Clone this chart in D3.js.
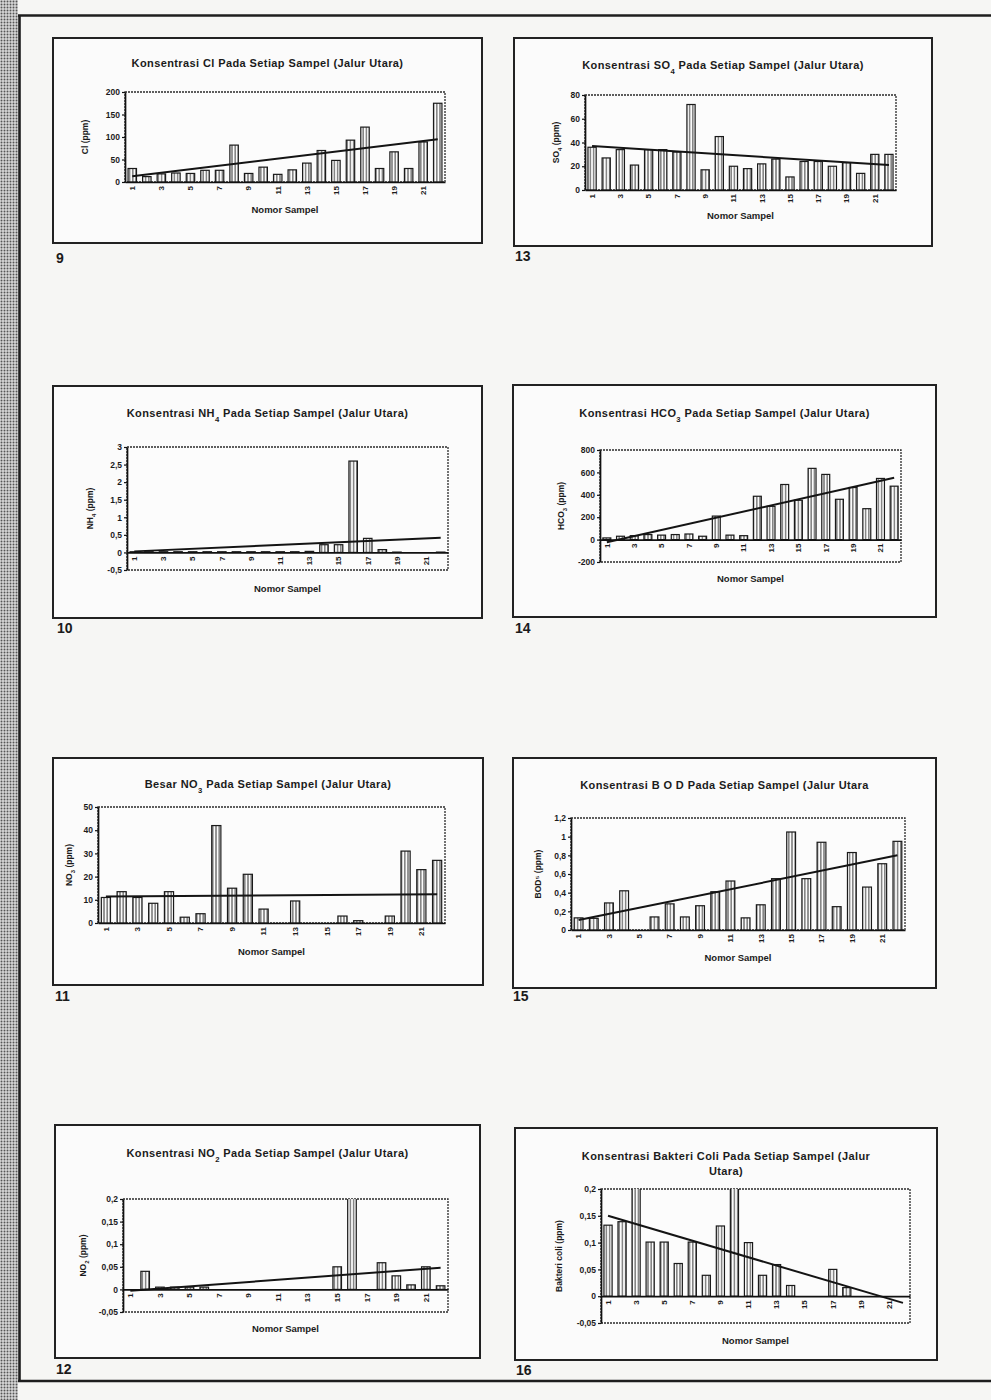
<!DOCTYPE html>
<html>
<head>
<meta charset="utf-8">
<script src="https://cdn.jsdelivr.net/npm/d3@7"></script>
<style>
  html, body { margin: 0; padding: 0; background: #f6f6f4; }
  svg { display: block; }
  text { font-family: "Liberation Sans", Arial, sans-serif; fill: #1b1b1b; }
</style>
</head>
<body>
<svg id="page" width="991" height="1400"></svg>
<script>
// ---- data -------------------------------------------------------------
// sample numbers (Nomor Sampel) and the labelled ones on the category axis
const sampleNo    = [1, 2, 3, 4, 5, 6, 7, 8, 9, 10, 11, 12, 13, 14, 15, 16, 17, 18, 19, 20, 21, 22];
const sampleTicks = [1, 3, 5, 7, 9, 11, 13, 15, 17, 19, 21];

// Cl (ppm)
const clValues = [30, 12, 18, 20, 19, 26, 26, 82, 19, 33, 17, 27, 42, 70, 48, 93, 122, 30, 67, 30, 89, 175];
const clTrend  = [13, 95];
const clTicks  = [0, 50, 100, 150, 200];

// SO4 (ppm)
const so4Values = [36, 27, 34, 21, 34, 34, 32, 72, 17, 45, 20, 18, 22, 26, 11, 24, 24, 20, 23, 14, 30, 30];
const so4Trend  = [37, 21];
const so4Ticks  = [0, 20, 40, 60, 80];

// NH4 (ppm)
const nh4Values = [0.02, 0.02, 0.02, 0.02, 0.02, 0.02, 0.02, 0.02, 0.02, 0.02, 0.02, 0.02, 0.03, 0.22, 0.22, 2.6, 0.4, 0.08, 0.01, 0, 0, 0.01];
const nh4Trend  = [0.03, 0.42];
const nh4Ticks  = [-0.5, 0, 0.5, 1, 1.5, 2, 2.5, 3];

// HCO3 (ppm)
const hco3Values = [15, 30, 35, 45, 40, 45, 50, 30, 210, 40, 35, 387, 297, 492, 351, 636, 582, 360, 465, 276, 546, 477];
const hco3Trend  = [-24, 552];
const hco3Ticks  = [-200, 0, 200, 400, 600, 800];

// NO3 (ppm)
const no3Values = [11, 13.5, 11, 8.5, 13.5, 2.5, 4, 42, 15, 21, 6, 0, 9.5, 0, 0, 3, 1, 0, 3, 31, 23, 27];
const no3Trend  = [11.4, 12.4];
const no3Ticks  = [0, 10, 20, 30, 40, 50];

// BOD (ppm)
const bodValues = [0.13, 0.125, 0.29, 0.42, 0, 0.14, 0.28, 0.14, 0.26, 0.41, 0.525, 0.13, 0.27, 0.55, 1.05, 0.55, 0.94, 0.25, 0.83, 0.46, 0.71, 0.95];
const bodTrend  = [0.107, 0.8];
const bodTicks  = [0, 0.2, 0.4, 0.6, 0.8, 1, 1.2];

// NO2 (ppm)
const no2Values = [0, 0.04, 0.005, 0.005, 0.005, 0.005, 0, 0, 0, 0, 0, 0, 0, 0, 0.05, 0.22, 0, 0.059, 0.03, 0.01, 0.05, 0.008];
const no2Trend  = [-0.003, 0.048];
const no2Ticks  = [-0.05, 0, 0.05, 0.1, 0.15, 0.2];

// Bakteri coli
const coliValues = [0.1325, 0.139, 0.22, 0.101, 0.101, 0.061, 0.101, 0.039, 0.131, 0.22, 0.1, 0.039, 0.059, 0.02, 0, 0, 0.05, 0.016, 0, 0, 0, 0];
const coliTrend  = [0.15, -0.0125];
const coliTicks  = [-0.05, 0, 0.05, 0.1, 0.15, 0.2];

// ---- layout of the eight panels ---------------------------------------
const charts = [
  { values: clValues, trend: clTrend, ticks: clTicks,
    title: ["Konsentrasi  Cl  Pada Setiap  Sampel (Jalur Utara)"], ylabel: "Cl (ppm)",
    box: [53, 38, 482, 243], plot: [125, 92, 445, 182], titleY: [67], ylabelX: 88, xtitleY: 213, num: "9", numPos: [56, 263] },
  { values: so4Values, trend: so4Trend, ticks: so4Ticks,
    title: ["Konsentrasi SO_4  Pada Setiap  Sampel (Jalur Utara)"], ylabel: "SO_4 (ppm)",
    box: [514, 38, 932, 246], plot: [585, 95, 896, 190], titleY: [69], ylabelX: 559, xtitleY: 219, num: "13", numPos: [515, 261] },
  { values: nh4Values, trend: nh4Trend, ticks: nh4Ticks,
    title: ["Konsentrasi  NH_4  Pada Setiap  Sampel (Jalur Utara)"], ylabel: "NH_4  (ppm)",
    box: [53, 386, 482, 618], plot: [127, 447, 448, 570], titleY: [417], ylabelX: 93, xtitleY: 592, num: "10", numPos: [57, 633] },
  { values: hco3Values, trend: hco3Trend, ticks: hco3Ticks,
    title: ["Konsentrasi HCO_3  Pada Setiap  Sampel (Jalur Utara)"], ylabel: "HCO_3 (ppm)",
    box: [513, 385, 936, 617], plot: [600, 450, 901, 562], titleY: [417], ylabelX: 564, xtitleY: 582, num: "14", numPos: [515, 633] },
  { values: no3Values, trend: no3Trend, ticks: no3Ticks,
    title: ["Besar NO_3 Pada Setiap  Sampel (Jalur Utara)"], ylabel: "NO_3 (ppm)",
    box: [53, 758, 483, 985], plot: [98, 807, 445, 923], titleY: [788], ylabelX: 72, xtitleY: 955, num: "11", numPos: [55, 1001] },
  { values: bodValues, trend: bodTrend, ticks: bodTicks,
    title: ["Konsentrasi  B O D  Pada Setiap  Sampel (Jalur Utara"], ylabel: "BOD\u2075 (ppm)",
    box: [513, 758, 936, 988], plot: [571, 818, 905, 930], titleY: [789], ylabelX: 541, xtitleY: 961, num: "15", numPos: [513, 1001] },
  { values: no2Values, trend: no2Trend, ticks: no2Ticks,
    title: ["Konsentrasi NO_2  Pada Setiap  Sampel (Jalur Utara)"], ylabel: "NO_2 (ppm)",
    box: [55, 1125, 480, 1358], plot: [123, 1199, 448, 1312], titleY: [1157], ylabelX: 86, xtitleY: 1332, num: "12", numPos: [56, 1374] },
  { values: coliValues, trend: coliTrend, ticks: coliTicks,
    title: ["Konsentrasi  Bakteri Coli  Pada Setiap  Sampel (Jalur", "Utara)"], ylabel: "Bakteri coli (ppm)",
    box: [515, 1128, 937, 1360], plot: [601, 1189, 910, 1323], titleY: [1160, 1175], ylabelX: 562, xtitleY: 1344, num: "16", numPos: [516, 1375] }
];

// ---- drawing ----------------------------------------------------------
const svg = d3.select("#page");
const defs = svg.append("defs");

// halftone strip along the binding edge
const dots = defs.append("pattern").attr("id", "halftone")
  .attr("patternUnits", "userSpaceOnUse").attr("width", 3).attr("height", 3);
dots.append("rect").attr("width", 3).attr("height", 3).attr("fill", "#d6d6d6");
dots.append("circle").attr("cx", 1.5).attr("cy", 1.5).attr("r", 0.95).attr("fill", "#555");

// vertical-line fill of the columns
const hatch = defs.append("pattern").attr("id", "hatch")
  .attr("patternUnits", "userSpaceOnUse").attr("width", 3.2).attr("height", 4);
hatch.append("rect").attr("width", 3.2).attr("height", 4).attr("fill", "#fbfbfb");
hatch.append("line").attr("x1", 1.6).attr("x2", 1.6).attr("y1", 0).attr("y2", 4)
  .attr("stroke", "#2a2a2a").attr("stroke-width", 0.9);

svg.append("rect").attr("x", 0).attr("y", 0).attr("width", 18).attr("height", 1400).attr("fill", "url(#halftone)");

// page frame
const frame = svg.append("g").attr("stroke", "#1e1e1e").attr("stroke-width", 2.6).attr("fill", "none");
frame.append("line").attr("x1", 18).attr("x2", 991).attr("y1", 15.5).attr("y2", 15.5);
frame.append("line").attr("x1", 19.5).attr("x2", 19.5).attr("y1", 15).attr("y2", 1382);
frame.append("line").attr("x1", 18).attr("x2", 991).attr("y1", 1381).attr("y2", 1381);

const fmt = d => String(+d.toFixed(3)).replace(".", ",");

// writes "NO_3" style strings as text with subscript digits
function richText(sel, str, size) {
  str.split(/(_\d)/).forEach(part => {
    if (!part) return;
    if (part[0] === "_") {
      sel.append("tspan").attr("baseline-shift", "sub").attr("font-size", size * 0.7).text(part.slice(1));
    } else {
      sel.append("tspan").text(part);
    }
  });
}

charts.forEach((c, k) => {
  const g = svg.append("g");
  const [bx0, by0, bx1, by1] = c.box;
  const [px0, py0, px1, py1] = c.plot;

  g.append("rect").attr("x", bx0).attr("y", by0).attr("width", bx1 - bx0).attr("height", by1 - by0)
    .attr("fill", "#fbfbfb").attr("stroke", "#222").attr("stroke-width", 2);

  const x = d3.scaleBand().domain(sampleNo).range([px0, px1]).paddingInner(0.42).paddingOuter(0.21);
  const y = d3.scaleLinear().domain(d3.extent(c.ticks)).range([py1, py0]);

  // plot area
  g.append("rect").attr("x", px0).attr("y", py0).attr("width", px1 - px0).attr("height", py1 - py0)
    .attr("fill", "#fcfcfc").attr("stroke", "#2a2a2a").attr("stroke-width", 1.3).attr("stroke-dasharray", "2,1");

  const clipId = "clip" + k;
  defs.append("clipPath").attr("id", clipId).append("rect")
    .attr("x", px0).attr("y", py0).attr("width", px1 - px0).attr("height", py1 - py0);

  const inner = g.append("g").attr("clip-path", `url(#${clipId})`);

  // columns
  inner.selectAll("rect.bar").data(c.values.map((v, i) => ({ s: sampleNo[i], v })))
    .join("rect").attr("class", "bar")
    .attr("x", d => x(d.s))
    .attr("width", x.bandwidth())
    .attr("y", d => y(Math.max(d.v, 0)))
    .attr("height", d => Math.abs(y(d.v) - y(0)))
    .attr("fill", "url(#hatch)")
    .attr("stroke", "#1a1a1a").attr("stroke-width", 1.2);

  // linear trend line
  const trendPts = [
    { s: sampleNo[0], v: c.trend[0] },
    { s: sampleNo[sampleNo.length - 1], v: c.trend[1] }
  ];
  inner.append("path")
    .attr("d", d3.line().x(d => x(d.s) + x.bandwidth() / 2).y(d => y(d.v))(trendPts))
    .attr("fill", "none").attr("stroke", "#141414").attr("stroke-width", 2);

  // value axis
  const yAxis = g.append("g").attr("transform", `translate(${px0},0)`)
    .call(d3.axisLeft(y).tickValues(c.ticks).tickSize(3).tickSizeOuter(0).tickFormat(fmt));
  yAxis.select(".domain").attr("stroke", "#111").attr("stroke-width", 1.7);
  yAxis.selectAll(".tick line").attr("stroke", "#111").attr("stroke-width", 1.2);
  yAxis.selectAll("text").attr("font-size", 8.5).attr("font-weight", "bold").attr("fill", "#1b1b1b").attr("x", -5);

  // category axis through zero
  const xAxis = g.append("g").attr("transform", `translate(0,${y(0)})`)
    .call(d3.axisBottom(x).tickValues(sampleTicks).tickSize(0).tickSizeOuter(0));
  xAxis.select(".domain").attr("stroke", "#111").attr("stroke-width", 1.7);
  xAxis.selectAll("text")
    .attr("x", 0).attr("y", 0).attr("dy", "0.35em")
    .attr("transform", "translate(0,4) rotate(-90)")
    .attr("text-anchor", "end")
    .attr("font-size", 8).attr("font-weight", "bold").attr("fill", "#1b1b1b");

  // titles
  c.title.forEach((line, li) => {
    const t = g.append("text").attr("x", (bx0 + bx1) / 2).attr("y", c.titleY[li])
      .attr("text-anchor", "middle").attr("font-size", 11).attr("font-weight", "bold")
      .attr("letter-spacing", 0.4);
    richText(t, line, 11);
  });

  const yl = g.append("text")
    .attr("transform", `translate(${c.ylabelX},${(py0 + py1) / 2}) rotate(-90)`)
    .attr("text-anchor", "middle").attr("font-size", 8.5).attr("font-weight", "bold");
  richText(yl, c.ylabel, 8.5);

  g.append("text").attr("x", (px0 + px1) / 2).attr("y", c.xtitleY)
    .attr("text-anchor", "middle").attr("font-size", 9.5).attr("font-weight", "bold").text("Nomor Sampel");

  svg.append("text").attr("x", c.numPos[0]).attr("y", c.numPos[1])
    .attr("font-size", 14).attr("font-weight", "bold").attr("fill", "#222").text(c.num);
});
</script>
</body>
</html>
